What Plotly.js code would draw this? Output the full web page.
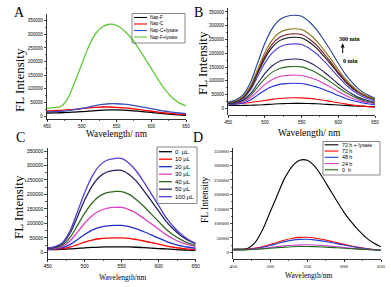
<!DOCTYPE html>
<html><head><meta charset="utf-8">
<script src="https://cdn.plot.ly/plotly-3.0.1.min.js"></script>
<style>html,body{margin:0;padding:0;background:#fff}</style>
</head><body>
<div id="chart" style="width:391px;height:287px"></div>
<script>
// ---------- data ----------
const wavelength = [450,460,470,480,490,500,510,520,530,540,550,560,570,580,590,600,610,620,630,640,650];
const xTicks = [450,500,550,600,650];

// Panel A
const namesA = ['Nap-F','Nap-C','Nap-C+lysate','Nap-F+lysate'];
const napF        = [11000,11500,12000,13000,14500,16000,18000,20000,21500,22500,22500,21500,20000,18000,15500,13000,10500,8000,6000,4000,2500];
const napC        = [19000,20000,21000,22500,24500,27000,29500,31500,33000,33000,32000,30000,27500,24500,21000,17500,14500,11500,9000,7000,5000];
const napCLysate  = [15000,16000,17500,20000,23500,28000,33000,38500,42500,45000,45000,43500,40500,36500,32000,27000,22000,17500,14000,11000,8500];
const napFLysate  = [28000,31000,35000,65000,125000,190000,255000,303000,328000,337000,333000,316000,290000,255000,215000,175000,133000,97000,68000,48000,37000];

// Panel B (0 min -> 300 min)
const b1  = [10000,10000,10500,11000,12000,13500,15000,16500,17500,18000,18000,17500,16500,15000,13500,12000,10500,9000,7500,6500,5500];
const b2  = [16000,17000,18500,21000,24500,28500,32500,35500,37500,38500,38000,36000,33000,29000,24500,20000,16000,12000,9000,6000,4000];
const b3  = [13000,14600,19200,30200,48000,66000,79000,87000,90000,91000,90000,85000,78000,68500,58000,46500,36000,28000,21000,16500,13000];
const b4  = [15000,17100,23500,38300,62500,87000,105000,115500,119500,121000,119500,113000,103500,90500,76500,61000,47000,36000,27000,21000,16000];
const b5  = [16000,18700,27000,46000,77000,108000,131500,145000,150500,152000,150500,142000,129500,113000,95000,75500,57500,43500,32000,24500,19000];
const b6  = [17000,20200,30000,52500,90000,127000,154500,171000,177500,179000,177500,167500,152500,133000,111500,88500,67000,50500,37000,28500,22000];
const b7  = [18000,22300,35300,65500,115000,165000,201500,223000,232000,234000,232000,218500,199000,173000,144500,114000,86000,64000,46500,35500,26500];
const b8  = [19000,23800,38000,71500,126500,181500,222000,246000,255500,258000,255500,241000,219500,190500,159500,126000,95000,71000,54000,42000,33000];
const b9  = [20000,25000,40000,75000,133000,190500,233000,258000,268500,271000,268500,253000,230500,200000,167000,131500,99000,74000,54000,41000,31000];
const b10 = [21000,26400,42400,80000,141500,203000,248500,275500,286000,289000,286000,270000,246000,213500,178500,141000,106000,79000,57500,44000,33000];
const b11 = [24000,30300,49000,93000,165000,237000,290500,322000,334500,338000,334500,315500,287000,249000,208000,163500,122500,90500,65000,49000,36500];
const seriesB = [b1,b2,b3,b4,b5,b6,b7,b8,b9,b10,b11];

// Panel C
const namesC = ['0  μL','10 μL','20 μL','30 μL','40 μL','50 μL','100 μL'];
const c0   = [9000,9300,10000,11500,13500,15500,17000,18200,18800,19000,19000,18500,17500,16000,14500,13000,11500,10000,8500,7500,6500];
const c10  = [10000,10600,12400,17600,26000,34800,42000,46800,49200,50000,50000,48000,44000,39000,33500,28000,22000,17500,14000,11000,9000];
const c20  = [11000,12200,16000,26500,43500,61500,76500,86000,91000,93000,93000,88500,81000,71000,60000,49000,38000,29500,22500,17500,14000];
const c30  = [12000,14000,20500,39000,69000,100500,126000,143500,152000,155000,155000,147500,134500,117000,98500,79500,61000,46000,34500,26000,20000];
const c40  = [13000,16000,25000,50500,92000,135000,170500,194000,206000,210000,210000,200000,182000,158000,132000,106000,80000,60000,44000,32000,24000];
const c50  = [14000,18000,30000,65000,121500,180500,229000,261000,277500,283000,283000,269000,245000,212500,177500,142000,107000,79500,57500,41000,30000];
const c100 = [15000,19500,33500,73500,138500,206500,262500,299500,318000,324000,324000,308000,280000,242500,202000,161000,120000,88500,63000,44000,31000];
const seriesC = [c0,c10,c20,c30,c40,c50,c100];

// Panel D
const namesD = ['72 h + lysate','72 h','48 h','24 h','0  h'];
const d72L = [11000,11500,14000,35000,80000,140000,200000,258000,298000,318000,318000,298000,262000,220000,178000,138000,104000,75000,50000,32000,19000];
const d72  = [9000,9500,11000,14500,20000,27000,35000,42500,48500,51500,52000,49500,45000,39500,33500,27500,22000,17000,13000,9500,7000];
const d48  = [8500,9000,10000,13000,17500,23500,30500,37000,42000,44500,45000,43000,39500,35000,30000,25000,20000,16000,12500,9500,7500];
const d24  = [8000,8500,9500,11000,13500,16500,19500,22500,24500,25500,26000,25000,23500,21500,19000,16500,14000,12000,10000,8500,7000];
const d0   = [8000,8300,9000,10500,12000,14000,16000,18000,19200,19800,20000,19500,18500,17000,15500,14000,12500,11000,9500,8500,7500];
const seriesD = [d72L,d72,d48,d24,d0];

// ---------- styling ----------
const colorsA = ['#000000','#ff0000','#3a4fc0','#62c83c'];
const colorsB = ['#000000','#ff0000','#2030d8','#d838c8','#2e6a1e','#20205e','#5040d8','#141414','#741420','#857418','#24428e'];
const colorsC = ['#000000','#ff0000','#2030c8','#e040c8','#2e6a1e','#23235e','#5040d0'];
const colorsD = ['#000000','#ff0000','#2040d0','#d040c8','#1a6a1a'];

const W = 391, H = 287;
const px = x => x / W, py = y => 1 - y / H;
const SANS = 'Liberation Sans, Arial, sans-serif';
const SERIF = 'Liberation Serif, Times New Roman, serif';

const traces = [];
function addSeries(list, colors, xa, ya, width, names) {
  list.forEach((ys, i) => traces.push({
    type: 'scatter', mode: 'lines', x: wavelength, y: ys,
    xaxis: xa, yaxis: ya, name: names ? names[i] : ('s' + i),
    line: {color: colors[i], width: width, shape: 'spline', smoothing: 1},
    showlegend: false, hoverinfo: 'skip'
  }));
}
addSeries([napF, napC, napCLysate, napFLysate], colorsA, 'x', 'y', 1.3, namesA);
addSeries(seriesB, colorsB, 'x2', 'y2', 1.1);
addSeries(seriesC, colorsC, 'x3', 'y3', 1.3, namesC);
addSeries(seriesD, colorsD, 'x4', 'y4', 1.1, namesD);

function xAxis(l, r, anchor, fam, size) {
  return {domain: [px(l), px(r)], anchor: anchor, range: [450, 650],
    tickvals: xTicks, ticks: 'outside', ticklen: 2.5, tickwidth: 0.7, tickcolor: '#000',
    minor: {dtick: 25, tick0: 450, ticks: 'outside', ticklen: 1.5, tickwidth: 0.6, tickcolor: '#000', showgrid: false},
    showline: true, linecolor: '#000', linewidth: 0.8, showgrid: false, zeroline: false,
    tickfont: {family: fam, size: size, color: '#000'}};
}
function yAxis(b, t, lo, hi, anchor, fam, size) {
  return {domain: [py(b), py(t)], anchor: anchor, range: [lo, hi],
    tick0: 0, dtick: 50000, tickformat: 'd', ticks: 'outside', ticklen: 2.5, tickwidth: 0.7, tickcolor: '#000',
    minor: {dtick: 25000, ticks: 'outside', ticklen: 1.5, tickwidth: 0.6, tickcolor: '#000', showgrid: false},
    showline: true, linecolor: '#000', linewidth: 0.8, showgrid: false, zeroline: false,
    tickfont: {family: fam, size: size, color: '#000'}};
}

const annotations = [];
const shapes = [];
function txt(x, y, text, size, fam, opts) {
  annotations.push(Object.assign({xref: 'paper', yref: 'paper', x: px(x), y: py(y), text: text,
    showarrow: false, font: {family: fam, size: size, color: '#000'}, xanchor: 'center', yanchor: 'middle'}, opts || {}));
}
// panel letters
txt(19, 12.5, 'A', 14, SERIF);
txt(198, 12.5, 'B', 14, SERIF);
txt(20, 137, 'C', 14, SERIF);
txt(198, 137.5, 'D', 14, SERIF);
// axis titles
txt(20, 80, 'FL Intensity', 13, SERIF, {textangle: -90});
txt(117, 133.5, 'Wavelength/ nm', 9.3, SERIF);
txt(203, 63, 'FL Intensity', 13, SERIF, {textangle: -90});
txt(309, 133, 'Wavelength/ nm', 9.5, SERIF);
txt(18, 207, 'FL Intensity', 13, SERIF, {textangle: -90});
txt(122, 277, 'Wavelength/nm', 7.5, SERIF);
txt(205, 200, 'FL Intensity', 9.5, SERIF, {textangle: -90});
txt(308, 275.5, 'Wavelength/nm', 7.5, SERIF);
// B arrow annotation
txt(349, 39.5, '<b>300 min</b>', 6, SERIF);
txt(350, 61, '<b>0 min</b>', 6, SERIF);
annotations.push({xref: 'paper', yref: 'paper', x: px(342.7), y: py(43.5), ax: 0, ay: 11, text: '',
  showarrow: true, arrowhead: 2, arrowsize: 0.8, arrowwidth: 1, arrowcolor: '#000'});

function legend(box, row0, step, lx0, lx1, tx, names, colors, size, lw) {
  shapes.push({type: 'rect', xref: 'paper', yref: 'paper', x0: px(box[0]), x1: px(box[2]), y0: py(box[3]), y1: py(box[1]),
    line: {color: '#555', width: 0.7}, fillcolor: 'rgba(255,255,255,0)'});
  names.forEach((n, i) => {
    const y = row0 + step * i;
    shapes.push({type: 'line', xref: 'paper', yref: 'paper', x0: px(lx0), x1: px(lx1), y0: py(y), y1: py(y),
      line: {color: colors[i], width: lw}});
    txt(tx, y, n, size, SANS, {xanchor: 'left'});
  });
}
legend([132, 13.5, 185, 43], 17.5, 6.5, 134, 147, 148, namesA, colorsA, 4.6, 1.1);
legend([157, 147, 197, 203.5], 151.7, 7.5, 159, 172, 173.2, namesC, colorsC, 6, 1.3);
legend([323, 141.5, 380, 175], 144.8, 6.25, 324.7, 338.3, 340.3, namesD, colorsD, 5.3, 1.1);

const layout = {
  width: W, height: H, margin: {l: 0, r: 0, t: 0, b: 0},
  paper_bgcolor: '#fff', plot_bgcolor: 'rgba(0,0,0,0)', showlegend: false,
  xaxis:  xAxis(47, 186, 'y', SANS, 4.5),
  yaxis:  yAxis(119, 14, -11000, 374600, 'x', SANS, 4.5),
  xaxis2: xAxis(228.3, 375, 'y2', SANS, 4.5),
  yaxis2: yAxis(115, 8.3, -24300, 363400, 'x2', SANS, 4.5),
  xaxis3: xAxis(47.7, 195.7, 'y3', SANS, 5),
  yaxis3: yAxis(259, 148, -23150, 360400, 'x3', SANS, 5),
  xaxis4: xAxis(233.3, 381, 'y4', SERIF, 5),
  yaxis4: yAxis(259, 148, -23150, 360400, 'x4', SERIF, 5),
  annotations: annotations, shapes: shapes
};
Plotly.newPlot('chart', traces, layout, {staticPlot: true, displayModeBar: false});
</script>
</body></html>
